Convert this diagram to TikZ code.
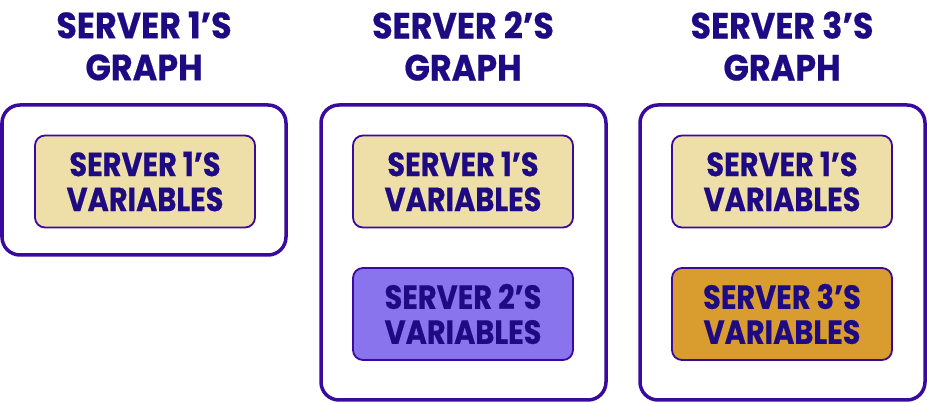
\documentclass[tikz,border=0pt]{standalone}
\usepackage{fontspec}
\setmainfont{Poppins}
\newfontfamily\boxfont[FakeStretch=0.86,BoldFeatures={FakeBold=0.5}]{Poppins}
\newfontfamily\headfont[FakeStretch=0.915,BoldFeatures={FakeBold=0.5}]{Poppins}
\begin{document}
\definecolor{edge}{HTML}{3A0A9E}
\definecolor{ink}{HTML}{1E0A82}
\definecolor{sand}{HTML}{EDDFA7}
\definecolor{lilac}{HTML}{8A74EE}
\definecolor{gold}{HTML}{D89D2E}
\begin{tikzpicture}[x=1pt,y=-1pt,
  graphbox/.style={draw=edge,line width=3.5pt,rounded corners=18pt,fill=white},
  varbox/.style={draw=edge,line width=1.8pt,rounded corners=10pt,minimum width=220pt,minimum height=92pt,
    inner sep=0pt,align=center,text=ink,font=\boxfont\bfseries\fontsize{33.5}{35}\selectfont},
  title/.style={align=center,text=ink,font=\headfont\bfseries\fontsize{36.5}{42}\selectfont,inner sep=0pt}]
\useasboundingbox (0,0) rectangle (927,403);
% graph frames
\draw[graphbox] (2,105) rectangle (286,255);
\draw[graphbox] (321,105) rectangle (606,400);
\draw[graphbox] (640,105) rectangle (925,400);
% titles
\node[title] (t1) at (144,46) {SERVER 1’S\\GRAPH};
\node[title] (t2) at (463,46) {SERVER 2’S\\GRAPH};
\node[title] (t3) at (782,46) {SERVER 3’S\\GRAPH};
% variable boxes
\node[varbox,fill=sand] (a1) at (145,181.5) {SERVER 1’S\\VARIABLES};
\node[varbox,fill=sand] (b1) at (463,181.5) {SERVER 1’S\\VARIABLES};
\node[varbox,fill=lilac] (b2) at (463,314) {SERVER 2’S\\VARIABLES};
\node[varbox,fill=sand] (c1) at (782,181.5) {SERVER 1’S\\VARIABLES};
\node[varbox,fill=gold] (c3) at (782,314) {SERVER 3’S\\VARIABLES};
\end{tikzpicture}
\end{document}
